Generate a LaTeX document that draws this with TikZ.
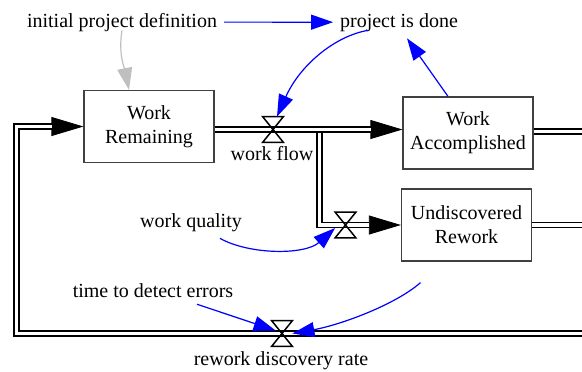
\documentclass[tikz,border=0pt]{standalone}
\usepackage{fontspec}
\setmainfont{Liberation Serif}
\usetikzlibrary{arrows.meta}
\tikzset{
  stock/.style={draw=black!75, line width=0.6pt, fill=white, minimum width=65pt, minimum height=36pt, align=center, inner sep=0pt},
  valve/.style={inner sep=0pt, minimum width=10pt, minimum height=12.5pt},
  pipe/.style={draw, line width=0.8pt, double, double distance=1.7pt},
  flow/.style={draw, line width=0.4pt, -{Triangle[length=16pt,width=9.5pt]}, postaction={pipe, -, shorten >=15.8pt}},
  link/.style={draw, blue, line width=0.6pt, -{Triangle[length=11pt,width=7.5pt]}}
}
\begin{document}
\begin{tikzpicture}[x=0.5pt,y=-0.5pt]
    \useasboundingbox (0,0) rectangle (582,371);
    \node[stock] (n1) at (149,126.5) {Work\\Remaining};
    \node[stock] (n2) at (468,133) {Work\\Accomplished};
    \node[stock] (n3) at (466.5,225) {Undiscovered\\Rework};
    \node[valve] (v1) at (273,129.5) {};
    \node[valve] (v2) at (345.5,225) {};
    \node[valve] (v3) at (282,333.5) {};
    \node[anchor=base] (n4) at (122,27) {initial project definition};
    \node[anchor=base] (n5) at (399,27) {project is done};
    \node[anchor=base] (n6) at (272,160) {work flow};
    \node[anchor=base] (n7) at (191,227) {work quality};
    \node[anchor=base] (n8) at (153,297) {time to detect errors};
    \node[anchor=base] (n9) at (281,365) {rework discovery rate};
    \coordinate (c1) at (319.5,132.8);
    \coordinate (c2) at (16.5,126.5);
    \coordinate (c3) at (582,131.5);
    \coordinate (c4) at (582,225);
    \coordinate (c5) at (582,333.5);
    \draw[flow] (n1.east |- v1) -- (n2.west |- v1);
    \draw[flow] (c1) |- (n3.west |- v2);
    \draw[pipe] (n2.east |- c3) -- (c3);
    \draw[pipe] (n3.east |- c4) -- (c4);
    \draw[flow] (c5) -| (c2) -- (n1.west |- c2);
    \foreach \v in {v1,v2,v3}
        \draw[line width=0.75pt] (\v.north west) -- (\v.north east) -- (\v.south west) -- (\v.south east) -- cycle;
    \draw[link] (n4) -- (n5);
    \draw[link] ([xshift=-15.5pt,yshift=4pt]n5.south) .. controls (335,36) and (300,65) .. ([xshift=2pt]v1.north);
    \draw[link] ([xshift=-10pt]n2.north) -- ([xshift=4pt]n5.south);
    \draw[link] ([xshift=14.5pt]n7.south) .. controls (250,255) and (305,255) .. ([yshift=-1.5pt]v2.west);
    \draw[link] ([xshift=22pt]n8.south) -- ([xshift=2pt,yshift=1.5pt]v3.west);
    \draw[link] ([xshift=-23pt,yshift=-10.5pt]n3.south) .. controls (395,305) and (340,325) .. (v3.east);
    \draw[link, black!25] ([yshift=4pt]n4.south) .. controls (118,55) and (125,70) .. ([xshift=-10pt]n1.north);
\end{tikzpicture}
\end{document}
